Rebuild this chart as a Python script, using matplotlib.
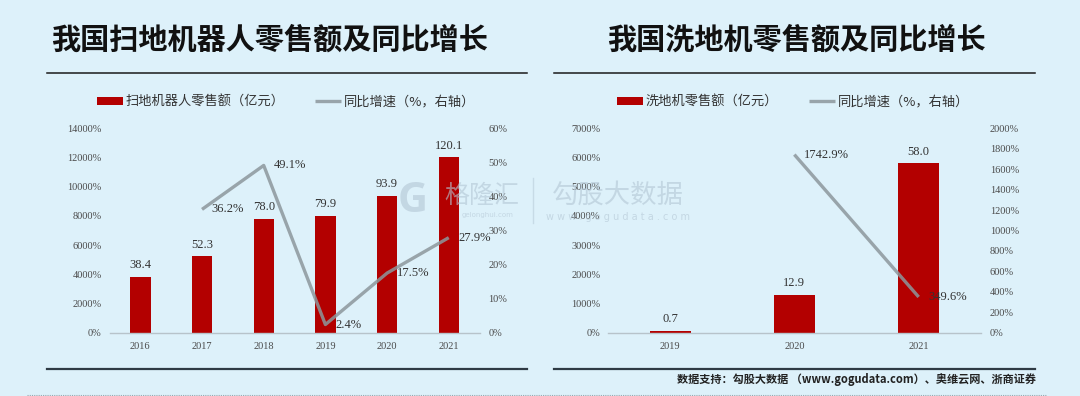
import matplotlib
matplotlib.use("Agg")
import matplotlib.pyplot as plt
from matplotlib.lines import Line2D
from matplotlib.ticker import FuncFormatter, MultipleLocator

# ---------------- data ----------------
years_robot = ["2016", "2017", "2018", "2019", "2020", "2021"]
sales_robot = [38.4, 52.3, 78.0, 79.9, 93.9, 120.1]          # 亿元
growth_robot_years = ["2017", "2018", "2019", "2020", "2021"]
growth_robot = [36.2, 49.1, 2.4, 17.5, 27.9]                   # %

years_wash = ["2019", "2020", "2021"]
sales_wash = [0.7, 12.9, 58.0]                                 # 亿元
growth_wash_years = ["2020", "2021"]
growth_wash = [1742.9, 349.6]                                  # %

title_left = "我国扫地机器人零售额及同比增长"
title_right = "我国洗地机零售额及同比增长"
legend_bar_left = "扫地机器人零售额（亿元）"
legend_bar_right = "洗地机零售额（亿元）"
legend_line = "同比增速（%，右轴）"
source_text = "数据支持：勾股大数据 （www.gogudata.com）、奥维云网、浙商证券"

# ---------------- style ----------------
BG = "#ddf1fa"
RED = "#b30000"
GRAY = "#8c979c"
TICK_C = "#4a4a4a"
CJK = ["Noto Sans CJK SC", "DejaVu Sans"]
SERIF = ["Liberation Serif", "DejaVu Serif"]

plt.rcParams["font.family"] = CJK

W, H = 1080, 396
fig = plt.figure(figsize=(W / 100, H / 100), dpi=100, facecolor=BG)


def fx(px):
    return px / W


def fy(py):
    return 1 - py / H


def make_panel(rect, cats, sales, gcats, growth, lmax, lstep, rmax, rstep,
               bar_label, leg_cx):
    ax = fig.add_axes(rect)
    ax.set_facecolor("none")
    xs = list(range(len(cats)))
    bars = ax.bar(xs, sales, width=0.33, color=RED, zorder=2,
                  label=bar_label)
    ax.set_xlim(-0.5, len(cats) - 0.5)
    ax.set_ylim(0, lmax)
    ax.yaxis.set_major_locator(MultipleLocator(lstep))
    ax.yaxis.set_major_formatter(FuncFormatter(lambda v, p: f"{v * 100:.0f}%"))
    ax.set_xticks(xs)
    ax.set_xticklabels(cats)
    for s in ["top", "right", "left"]:
        ax.spines[s].set_visible(False)
    ax.spines["bottom"].set_color("#b7c3ca")
    ax.spines["bottom"].set_linewidth(1.0)
    ax.tick_params(axis="both", length=0, colors=TICK_C, labelsize=7.5)
    ax.tick_params(axis="y", pad=5.5)
    ax.tick_params(axis="x", pad=6.5)
    for t in ax.get_xticklabels() + ax.get_yticklabels():
        t.set_fontfamily(SERIF)
    ax.bar_label(bars, labels=[f"{v:.1f}" for v in sales], padding=4,
                 fontsize=9, color="#333333", family=SERIF)

    ax2 = ax.twinx()
    ax2.set_facecolor("none")
    gx = [cats.index(c) for c in gcats]
    line, = ax2.plot(gx, growth, color=GRAY, lw=2.4, alpha=0.85,
                     solid_capstyle="butt", zorder=3, label=legend_line)
    for x, v in zip(gx, growth):
        ax2.annotate(f"{v:.1f}%", (x, v), xytext=(7, 0),
                     textcoords="offset points", ha="left", va="center",
                     fontsize=9, color="#333333", family=SERIF)
    ax2.set_ylim(0, rmax)
    ax2.yaxis.set_major_locator(MultipleLocator(rstep))
    ax2.yaxis.set_major_formatter(FuncFormatter(lambda v, p: f"{v:.0f}%"))
    for s in ["top", "right", "left", "bottom"]:
        ax2.spines[s].set_visible(False)
    ax2.tick_params(axis="y", length=0, colors=TICK_C, labelsize=7.5, pad=6.5)
    for t in ax2.get_yticklabels():
        t.set_fontfamily(SERIF)

    fig.legend(handles=[bars, line], labels=[bar_label, legend_line],
               loc="center", bbox_to_anchor=(leg_cx, fy(102)),
               bbox_transform=fig.transFigure, ncol=2, frameon=False,
               handlelength=2.0, handleheight=0.6, handletextpad=0.2,
               columnspacing=2.3, prop={"family": CJK, "size": 9.5},
               labelcolor="#333333")
    return ax, ax2


ax_h = (332.7 - 128.3) / H
make_panel([fx(109.5), fy(332.7), fx(479.6 - 109.5), ax_h],
           years_robot, sales_robot, growth_robot_years, growth_robot,
           140, 20, 60, 10, legend_bar_left, fx(286))
make_panel([fx(607.9), fy(332.7), fx(980.8 - 607.9), ax_h],
           years_wash, sales_wash, growth_wash_years, growth_wash,
           70, 10, 2000, 200, legend_bar_right, fx(793))

# ---------------- titles & rules ----------------
fig.text(fx(269.5), fy(39.5), title_left, ha="center", va="center",
         fontsize=21, fontweight="heavy", color="#111111", family=CJK)
fig.text(fx(796.5), fy(39.5), title_right, ha="center", va="center",
         fontsize=21, fontweight="heavy", color="#111111", family=CJK)

for x0, x1 in [(46.5, 527), (554, 1035)]:
    fig.add_artist(Line2D([fx(x0), fx(x1)], [fy(73), fy(73)],
                          color="#1a1a1a", lw=1.1))
    fig.add_artist(Line2D([fx(x0), fx(x1)], [fy(368.7), fy(368.7)],
                          color="#2f3b44", lw=1.6))
fig.add_artist(Line2D([fx(27), fx(1046)], [fy(394.5), fy(394.5)],
                      color="#9aa6ad", lw=0.8, ls=(0, (1, 1))))

fig.text(fx(1036), fy(380), source_text, ha="right", va="center",
         fontsize=8.0, fontweight="bold", color="#222222", family=CJK)

# ---------------- watermarks ----------------
WM = "#b3c6d4"
fig.text(fx(413), fy(202), "G", ha="center", va="center", fontsize=30,
         fontweight="bold", color=WM, alpha=0.6, family=["Open Sans"],
         zorder=10)
fig.text(fx(482), fy(196), "格隆汇", ha="center", va="center", fontsize=18,
         color=WM, alpha=0.6, family=CJK, zorder=10)
fig.text(fx(488), fy(215), "gelonghui.com", ha="center", va="center",
         fontsize=5, color=WM, alpha=0.6, family=["DejaVu Sans"], zorder=10)
fig.add_artist(Line2D([fx(533), fx(533)], [fy(178), fy(223)], color=WM,
                      lw=1.0, alpha=0.5))
fig.text(fx(617.5), fy(195), "勾股大数据", ha="center", va="center",
         fontsize=19, color=WM, alpha=0.6, family=CJK, zorder=10)
fig.text(fx(617.5), fy(217), "w w w . g o g u d a t a . c o m", ha="center",
         va="center", fontsize=7, color=WM, alpha=0.6,
         family=["DejaVu Sans"], zorder=10)

fig.savefig("out.png", dpi=100, facecolor=BG)
